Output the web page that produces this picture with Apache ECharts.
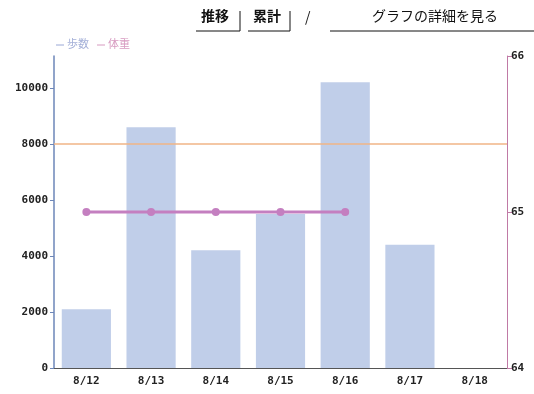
<!DOCTYPE html>
<html>
<head>
<meta charset="utf-8">
<script src="https://cdn.jsdelivr.net/npm/echarts@6/dist/echarts.min.js"></script>
<style>
html,body{margin:0;padding:0;background:#fff;}
#chart{width:534px;height:394px;}
</style>
</head>
<body>
<div id="chart"></div>
<script>
// Daily steps and body weight for one week
var days = ['8/12', '8/13', '8/14', '8/15', '8/16', '8/17', '8/18'];
var steps = [2100, 8600, 4200, 5500, 10200, 4400, 0];
var weight = [65, 65, 65, 65, 65, null, null];
var stepGoal = 8000;
var stepTicks = [0, 2000, 4000, 6000, 8000, 10000];
var weightTicks = [64, 65, 66];

var mono = '"DejaVu Sans Mono", monospace';
var jp = '"Noto Sans CJK JP", sans-serif';

var chart = echarts.init(document.getElementById('chart'), null, {renderer: 'canvas'});
chart.setOption({
  animation: false,
  grid: {left: 54, right: 27, top: 56, bottom: 26, containLabel: false},
  legend: {show: false},
  xAxis: {
    type: 'category',
    data: days,
    boundaryGap: true,
    axisLine: {lineStyle: {color: '#555', width: 1}},
    axisTick: {alignWithLabel: true, length: 3, lineStyle: {color: '#555'}},
    axisLabel: {color: '#222', fontFamily: mono, fontSize: 11, fontWeight: 'bold', margin: 8}
  },
  yAxis: [{
    type: 'value',
    min: 0,
    max: 11140,
    interval: 2000,
    splitLine: {show: false},
    axisLine: {show: true, lineStyle: {color: '#6d86b8', width: 1.5}},
    axisTick: {show: true, length: 4, lineStyle: {color: '#6d86b8'}},
    axisLabel: {
      color: '#222', fontFamily: mono, fontSize: 11, fontWeight: 'bold', margin: 6,
      showMaxLabel: false,
      formatter: function (v) { return stepTicks.indexOf(v) >= 0 ? String(v) : ''; }
    }
  }, {
    type: 'value',
    min: weightTicks[0],
    max: weightTicks[2],
    interval: 1,
    position: 'right',
    splitLine: {show: false},
    axisLine: {show: true, lineStyle: {color: '#c07aa6', width: 1}},
    axisTick: {show: true, length: 5, lineStyle: {color: '#c07aa6'}},
    axisLabel: {color: '#222', fontFamily: mono, fontSize: 11, fontWeight: 'bold', margin: 4}
  }],
  series: [{
    name: '歩数',
    type: 'bar',
    data: steps,
    barCategoryGap: '24%',
    itemStyle: {color: '#c0cee9'},
    markLine: {
      silent: true,
      symbol: 'none',
      label: {show: false},
      lineStyle: {color: '#f0b486', type: 'solid', width: 1.5},
      data: [{yAxis: stepGoal}]
    }
  }, {
    name: '体重',
    type: 'line',
    yAxisIndex: 1,
    data: weight,
    symbol: 'circle',
    symbolSize: 8,
    lineStyle: {color: '#c47fc0', width: 3},
    itemStyle: {color: '#c47fc0'}
  }],
  graphic: [
    // legend
    {type: 'line', shape: {x1: 56, y1: 45, x2: 64, y2: 45}, style: {stroke: '#9aa8d6', lineWidth: 1}},
    {type: 'text', left: 67, top: 38, style: {text: '歩数', fill: '#a4b0d8', font: '11px ' + jp}},
    {type: 'line', shape: {x1: 97, y1: 45, x2: 105, y2: 45}, style: {stroke: '#d79ac0', lineWidth: 1}},
    {type: 'text', left: 108, top: 38, style: {text: '体重', fill: '#d79ac0', font: '11px ' + jp}},
    // view switch links
    {type: 'text', left: 201, top: 9, style: {text: '推移', fill: '#111', font: 'bold 14px ' + jp}},
    {type: 'line', shape: {x1: 196, y1: 31, x2: 240, y2: 31}, style: {stroke: '#111', lineWidth: 1}},
    {type: 'line', shape: {x1: 240, y1: 11, x2: 240, y2: 31}, style: {stroke: '#111', lineWidth: 1}},
    {type: 'text', left: 253, top: 9, style: {text: '累計', fill: '#111', font: 'bold 14px ' + jp}},
    {type: 'line', shape: {x1: 248, y1: 31, x2: 290, y2: 31}, style: {stroke: '#111', lineWidth: 1}},
    {type: 'line', shape: {x1: 290, y1: 11, x2: 290, y2: 31}, style: {stroke: '#111', lineWidth: 1}},
    {type: 'text', left: 305, top: 10, style: {text: '/', fill: '#111', font: '14px ' + jp}},
    {type: 'text', left: 372, top: 9, style: {text: 'グラフの詳細を見る', fill: '#111', font: '14px ' + jp}},
    {type: 'line', shape: {x1: 330, y1: 31, x2: 534, y2: 31}, style: {stroke: '#111', lineWidth: 1}}
  ]
});
</script>
</body>
</html>
